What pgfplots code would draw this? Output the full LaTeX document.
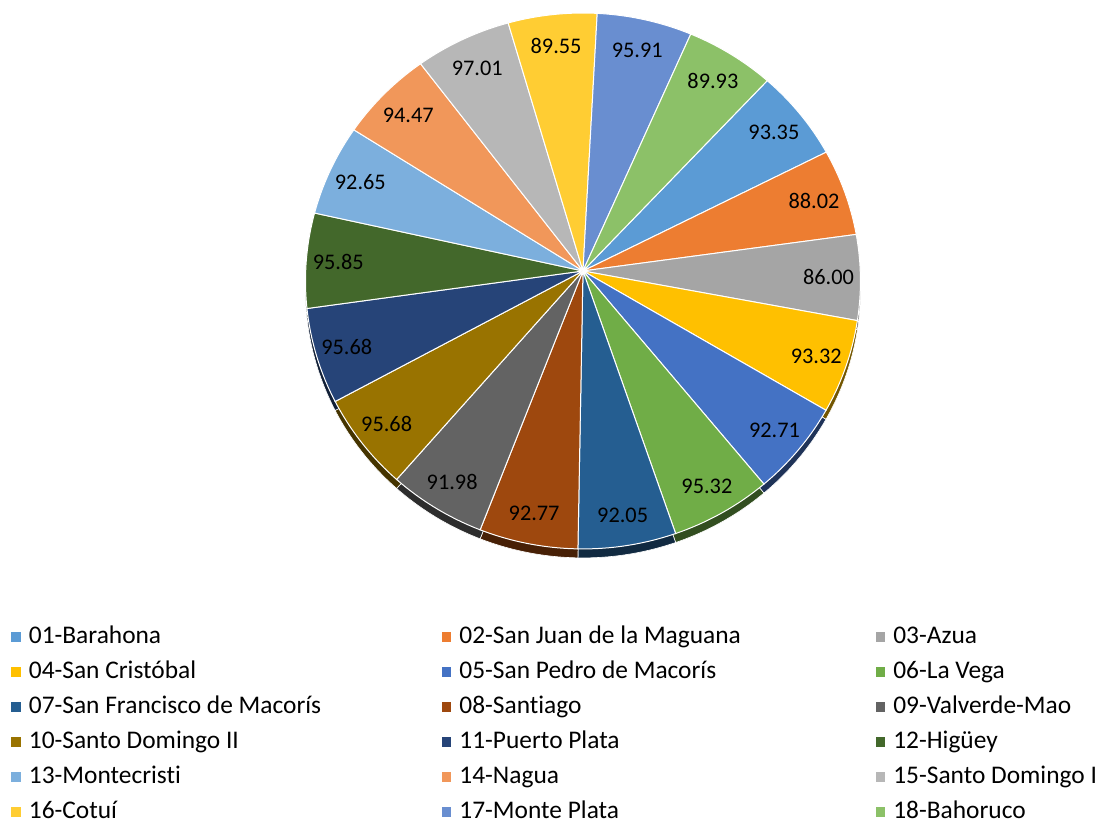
\documentclass[border=0pt]{standalone}
\usepackage{fontspec}
\setmainfont{Carlito}[Ligatures=NoCommon]
\usepackage{pgfplots}
\usepackage{pgfplotstable}
\pgfplotsset{compat=1.18}
\definecolor{c0}{HTML}{5B9BD5}
\definecolor{c1}{HTML}{ED7D31}
\definecolor{c2}{HTML}{A5A5A5}
\definecolor{c3}{HTML}{FFC000}
\definecolor{c4}{HTML}{4472C4}
\definecolor{c5}{HTML}{70AD47}
\definecolor{c6}{HTML}{255E91}
\definecolor{c7}{HTML}{9E480E}
\definecolor{c8}{HTML}{636363}
\definecolor{c9}{HTML}{997300}
\definecolor{c10}{HTML}{264478}
\definecolor{c11}{HTML}{43682B}
\definecolor{c12}{HTML}{7CAFDD}
\definecolor{c13}{HTML}{F1975A}
\definecolor{c14}{HTML}{B7B7B7}
\definecolor{c15}{HTML}{FFCD33}
\definecolor{c16}{HTML}{698ED0}
\definecolor{c17}{HTML}{8CC168}
\pgfplotstableread{
v
93.35
88.02
86.00
93.32
92.71
95.32
92.05
92.77
91.98
95.68
95.68
95.85
92.65
94.47
97.01
89.55
95.91
89.93
}\pietable
\begin{document}
\begin{tikzpicture}
\def\total{0}
\pgfplotsforeachungrouped \i in {0,...,17}{%
  \pgfplotstablegetelem{\i}{v}\of\pietable
  \pgfmathsetmacro{\total}{\total+\pgfplotsretval}%
}
\begin{axis}[
  width=1097bp, height=820bp, scale only axis, hide axis,
  xmin=0, xmax=1097, ymin=0, ymax=820, clip=false,
  legend columns=3,
  legend cell align=left,
  legend style={at={(axis cs:11,195)}, anchor=north west, draw=none, fill=none,
    inner sep=0pt, column sep=0pt, row sep=11bp,
    font=\fontsize{25.4bp}{30bp}\selectfont,
    nodes={inner sep=0pt, text height=18bp, text depth=6bp},
    /tikz/every odd column/.append style={column sep=8bp}},
  legend image code/.code={\fill[#1, draw=none] (0bp,-4.85bp) rectangle (9.7bp,4.85bp);},
  legend entries={
    \makebox[412.9bp][l]{01-Barahona},
    \makebox[416.2bp][l]{02-San Juan de la Maguana},
    03-Azua,
    \makebox[412.9bp][l]{04-San Cristóbal},
    \makebox[416.2bp][l]{05-San Pedro de Macorís},
    06-La Vega,
    \makebox[412.9bp][l]{07-San Francisco de Macorís},
    \makebox[416.2bp][l]{08-Santiago},
    09-Valverde-Mao,
    \makebox[412.9bp][l]{10-Santo Domingo II},
    \makebox[416.2bp][l]{11-Puerto Plata},
    12-Higüey,
    \makebox[412.9bp][l]{13-Montecristi},
    \makebox[416.2bp][l]{14-Nagua},
    15-Santo Domingo I,
    \makebox[412.9bp][l]{16-Cotuí},
    \makebox[416.2bp][l]{17-Monte Plata},
    18-Bahoruco}
]
\path (axis cs:0,0) rectangle (axis cs:1097,820);
% depth (side) of the 3D pie
\def\cum{0}
\pgfplotsforeachungrouped \i in {0,...,17}{%
  \pgfplotstablegetelem{\i}{v}\of\pietable
  \pgfmathsetmacro{\a}{43.06+\cum/\total*360}%
  \pgfmathsetmacro{\cum}{\cum+\pgfplotsretval}%
  \pgfmathsetmacro{\b}{43.06+\cum/\total*360}%
  \edef\doplot{\noexpand\addplot[forget plot, fill=c\i!45!black, draw=white, line width=0.6bp, domain=\a:\b, samples=30, variable=\noexpand\t] ({583+277.3*sin(\noexpand\t)/(1+0.0373*cos(\noexpand\t))}, {540+267.6*cos(\noexpand\t)/(1+0.0373*cos(\noexpand\t))}) -- (axis cs:583,540) -- cycle;}%
  \doplot
}
% top faces
\def\cum{0}
\pgfplotsforeachungrouped \i in {0,...,17}{%
  \pgfplotstablegetelem{\i}{v}\of\pietable
  \let\val\pgfplotsretval
  \pgfmathsetmacro{\a}{43.06+\cum/\total*360}%
  \pgfmathsetmacro{\cum}{\cum+\val}%
  \pgfmathsetmacro{\b}{43.06+\cum/\total*360}%
  \edef\doplot{\noexpand\addplot[fill=c\i, draw=white, line width=1bp, domain=\a:\b, samples=30, variable=\noexpand\t] ({583+277.3*sin(\noexpand\t)/(1+0.0373*cos(\noexpand\t))}, {549+267.6*cos(\noexpand\t)/(1+0.0373*cos(\noexpand\t))}) -- (axis cs:583,549) -- cycle;}%
  \doplot
  \pgfmathsetmacro{\m}{(\a+\b)/2}%
  \pgfmathsetmacro{\rr}{0.885-0.04*cos(\m)}%
  \pgfmathsetmacro{\lx}{583+277.3*\rr*sin(\m)}%
  \pgfmathsetmacro{\ly}{549+267.6*\rr*cos(\m)}%
  \edef\dolabel{\noexpand\node[font=\noexpand\fontsize{22.3bp}{26bp}\noexpand\selectfont, text=black] at (axis cs:\lx,\ly) {\val};}%
  \dolabel
}
\end{axis}
\end{tikzpicture}
\end{document}
